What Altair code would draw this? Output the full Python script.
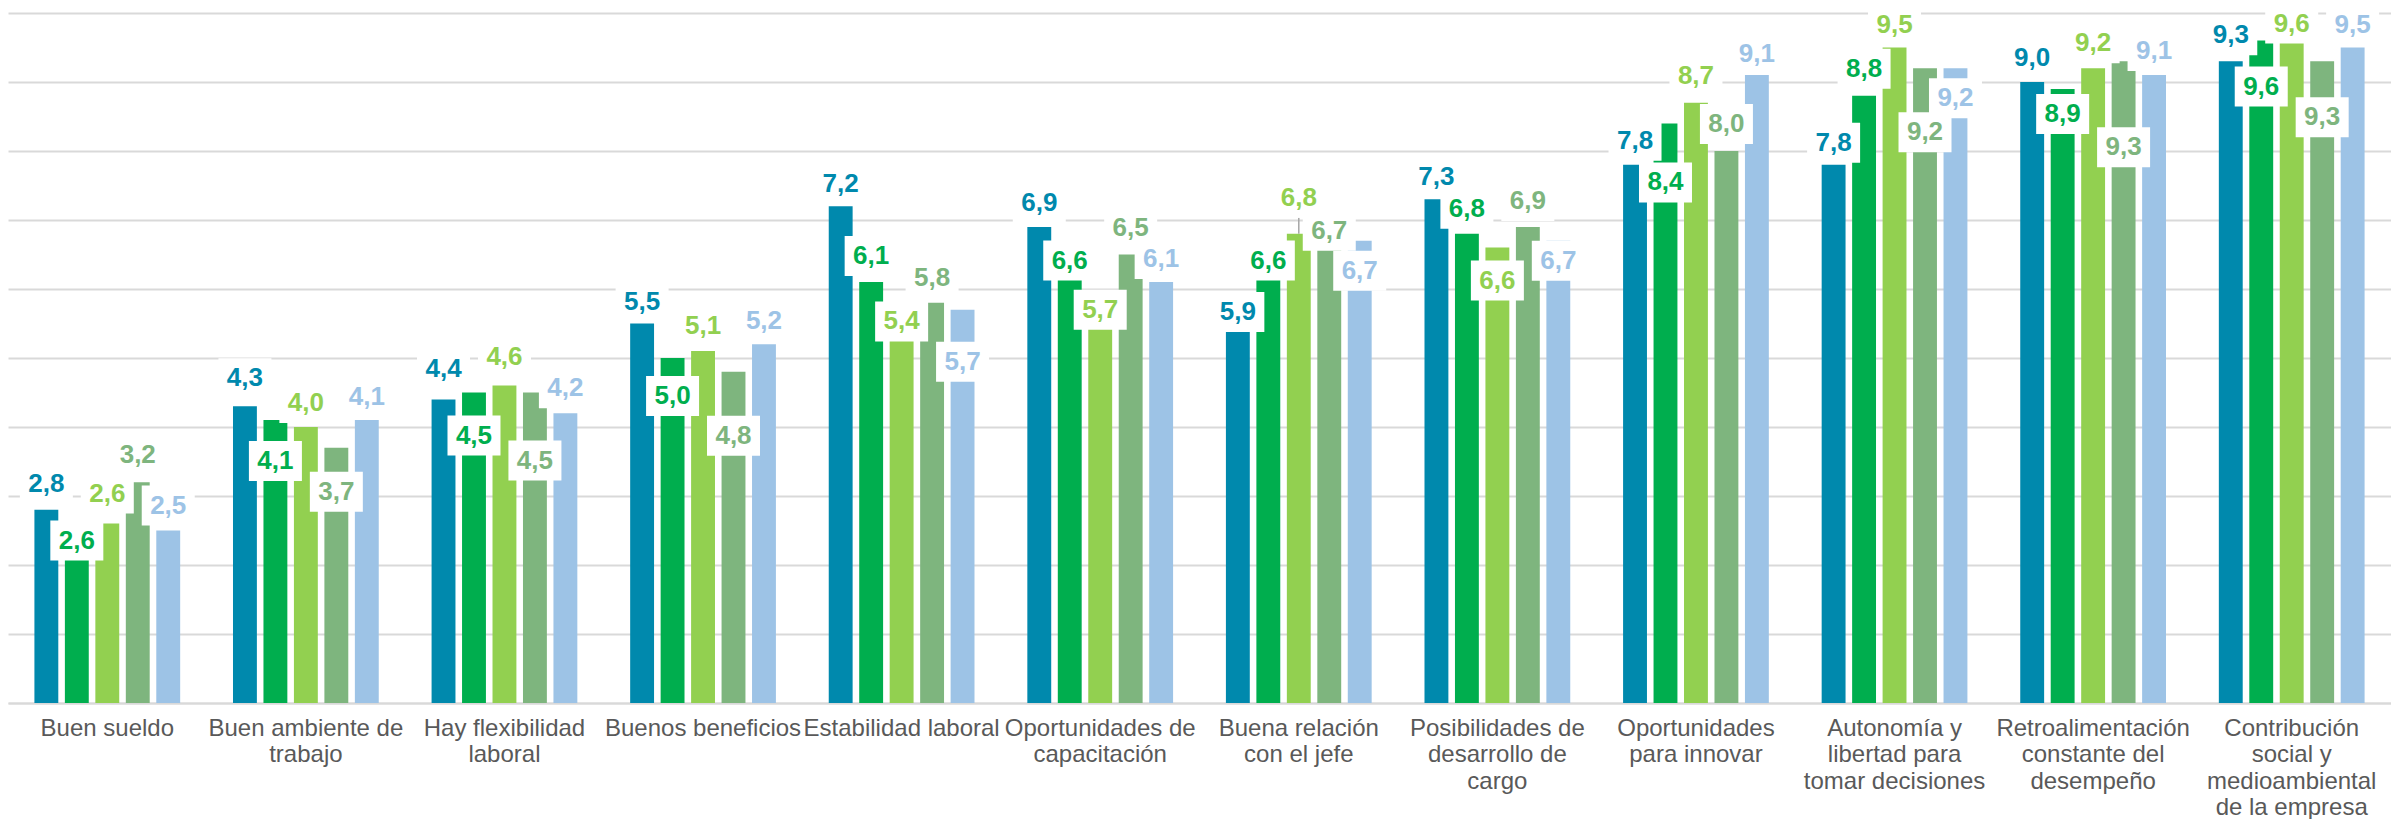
import altair as alt
import pandas as pd

categories = [
    "Buen sueldo",
    "Buen ambiente de\ntrabajo",
    "Hay flexibilidad\nlaboral",
    "Buenos beneficios",
    "Estabilidad laboral",
    "Oportunidades de\ncapacitación",
    "Buena relación\ncon el jefe",
    "Posibilidades de\ndesarrollo de\ncargo",
    "Oportunidades\npara innovar",
    "Autonomía y\nlibertad para\ntomar decisiones",
    "Retroalimentación\nconstante del\ndesempeño",
    "Contribución\nsocial y\nmedioambiental\nde la empresa",
]
series = ["Serie 1", "Serie 2", "Serie 3", "Serie 4", "Serie 5"]
colors = ["#0089AD", "#00AE4E", "#92D050", "#7EB57E", "#9DC3E6"]

s1 = [2.8, 4.3, 4.4, 5.5, 7.2, 6.9, 5.9, 7.3, 7.8, 7.8, 9.0, 9.3]
s2 = [2.6, 4.1, 4.5, 5.0, 6.1, 6.6, 6.6, 6.8, 8.4, 8.8, 8.9, 9.6]
s3 = [2.6, 4.0, 4.6, 5.1, 5.4, 5.7, 6.8, 6.6, 8.7, 9.5, 9.2, 9.6]
s4 = [3.2, 3.7, 4.5, 4.8, 5.8, 6.5, 6.7, 6.9, 8.0, 9.2, 9.3, 9.3]
s5 = [2.5, 4.1, 4.2, 5.2, 5.7, 6.1, 6.7, 6.7, 9.1, 9.2, 9.1, 9.5]

# label placement relative to bar top, in pixels (positive = above the bar top)
shift1 = [26, 28, 30, 22, 22, 24, -16, 22, 24, 22, 24, 26]
shift2 = [-17, -41, -43, -38, 26, -13, -13, 25, -59, 27, -25, -46]
shift3 = [30, 24, 29, 25, 9, 0, 36, -33, 27, 23, 25, 17]
shift4 = [27, -44, -68, -64, 25, 27, 10, 26, 27, -64, -86, -56]
shift5 = [25, 23, 25, 23, -52, 23, -30, -20, 21, -30, 24, 23]

W = 2383
H = 690
FONT = "Liberation Sans"

vals = [s1, s2, s3, s4, s5]
shifts = [shift1, shift2, shift3, shift4, shift5]
rows = []
for ci, cat in enumerate(categories):
    for si, ser in enumerate(series):
        rows.append({"cat": cat, "ser": ser, "value": vals[si][ci], "dy": shifts[si][ci]})
df = pd.DataFrame(rows)

k = 10.0 / H

base = alt.Chart(df).transform_calculate(
    label="replace(format(datum.value, '.1f'), '.', ',')",
    lab_y=f"datum.value + datum.dy * {k}",
    lead_top=f"datum.value + (datum.dy - 20) * {k}",
).encode(
    x=alt.X(
        "cat:N",
        sort=categories,
        title=None,
        scale=alt.Scale(paddingInner=0.266, paddingOuter=0.133),
        axis=alt.Axis(
            labelAngle=0,
            labelFont=FONT,
            labelFontSize=24,
            labelColor="#595959",
            labelLineHeight=26.5,
            labelPadding=13,
            labelLimit=400,
            labelOverlap=False,
            labelBound=False,
            labelExpr="split(datum.value, '\\n')",
            ticks=False,
            domainColor="#D9D9D9",
            domainWidth=2,
        ),
    ),
    xOffset=alt.XOffset(
        "ser:N", sort=series, scale=alt.Scale(paddingInner=0.216, paddingOuter=0)
    ),
)

color_scale = alt.Scale(domain=series, range=colors)

bars = base.mark_bar().encode(
    y=alt.Y(
        "value:Q",
        title=None,
        scale=alt.Scale(domain=[0, 10], nice=False, zero=True),
        axis=alt.Axis(
            values=list(range(11)),
            labels=False,
            ticks=False,
            domain=False,
            grid=True,
            gridColor="#D9D9D9",
            gridWidth=2,
        ),
    ),
    color=alt.Color("ser:N", scale=color_scale, legend=None),
)

leader = base.mark_rule(color="#A6A6A6", strokeWidth=1.5).encode(
    y=alt.Y("value:Q", title=None),
    y2="lead_top:Q",
).transform_filter("datum.dy > 32")

boxes = base.mark_point(
    shape="M-1,-0.755H1V0.755H-1Z",
    filled=True,
    color="white",
    opacity=1,
    strokeWidth=0,
    size=2809,
).encode(y=alt.Y("lab_y:Q", title=None))

texts = base.mark_text(
    font=FONT, fontSize=26, fontWeight="bold", align="center", baseline="middle"
).encode(
    y=alt.Y("lab_y:Q", title=None),
    text="label:N",
    color=alt.Color("ser:N", scale=color_scale, legend=None),
)

chart = (
    alt.layer(bars, leader, boxes, texts)
    .properties(
        width=W,
        height=H,
        autosize=alt.AutoSizeParams(type="none"),
        padding={"top": 5, "left": 0, "right": 0, "bottom": 116},
    )
    .configure_view(stroke=None)
)

chart.save("out.html", embed_options={"renderer": "svg", "actions": False})
